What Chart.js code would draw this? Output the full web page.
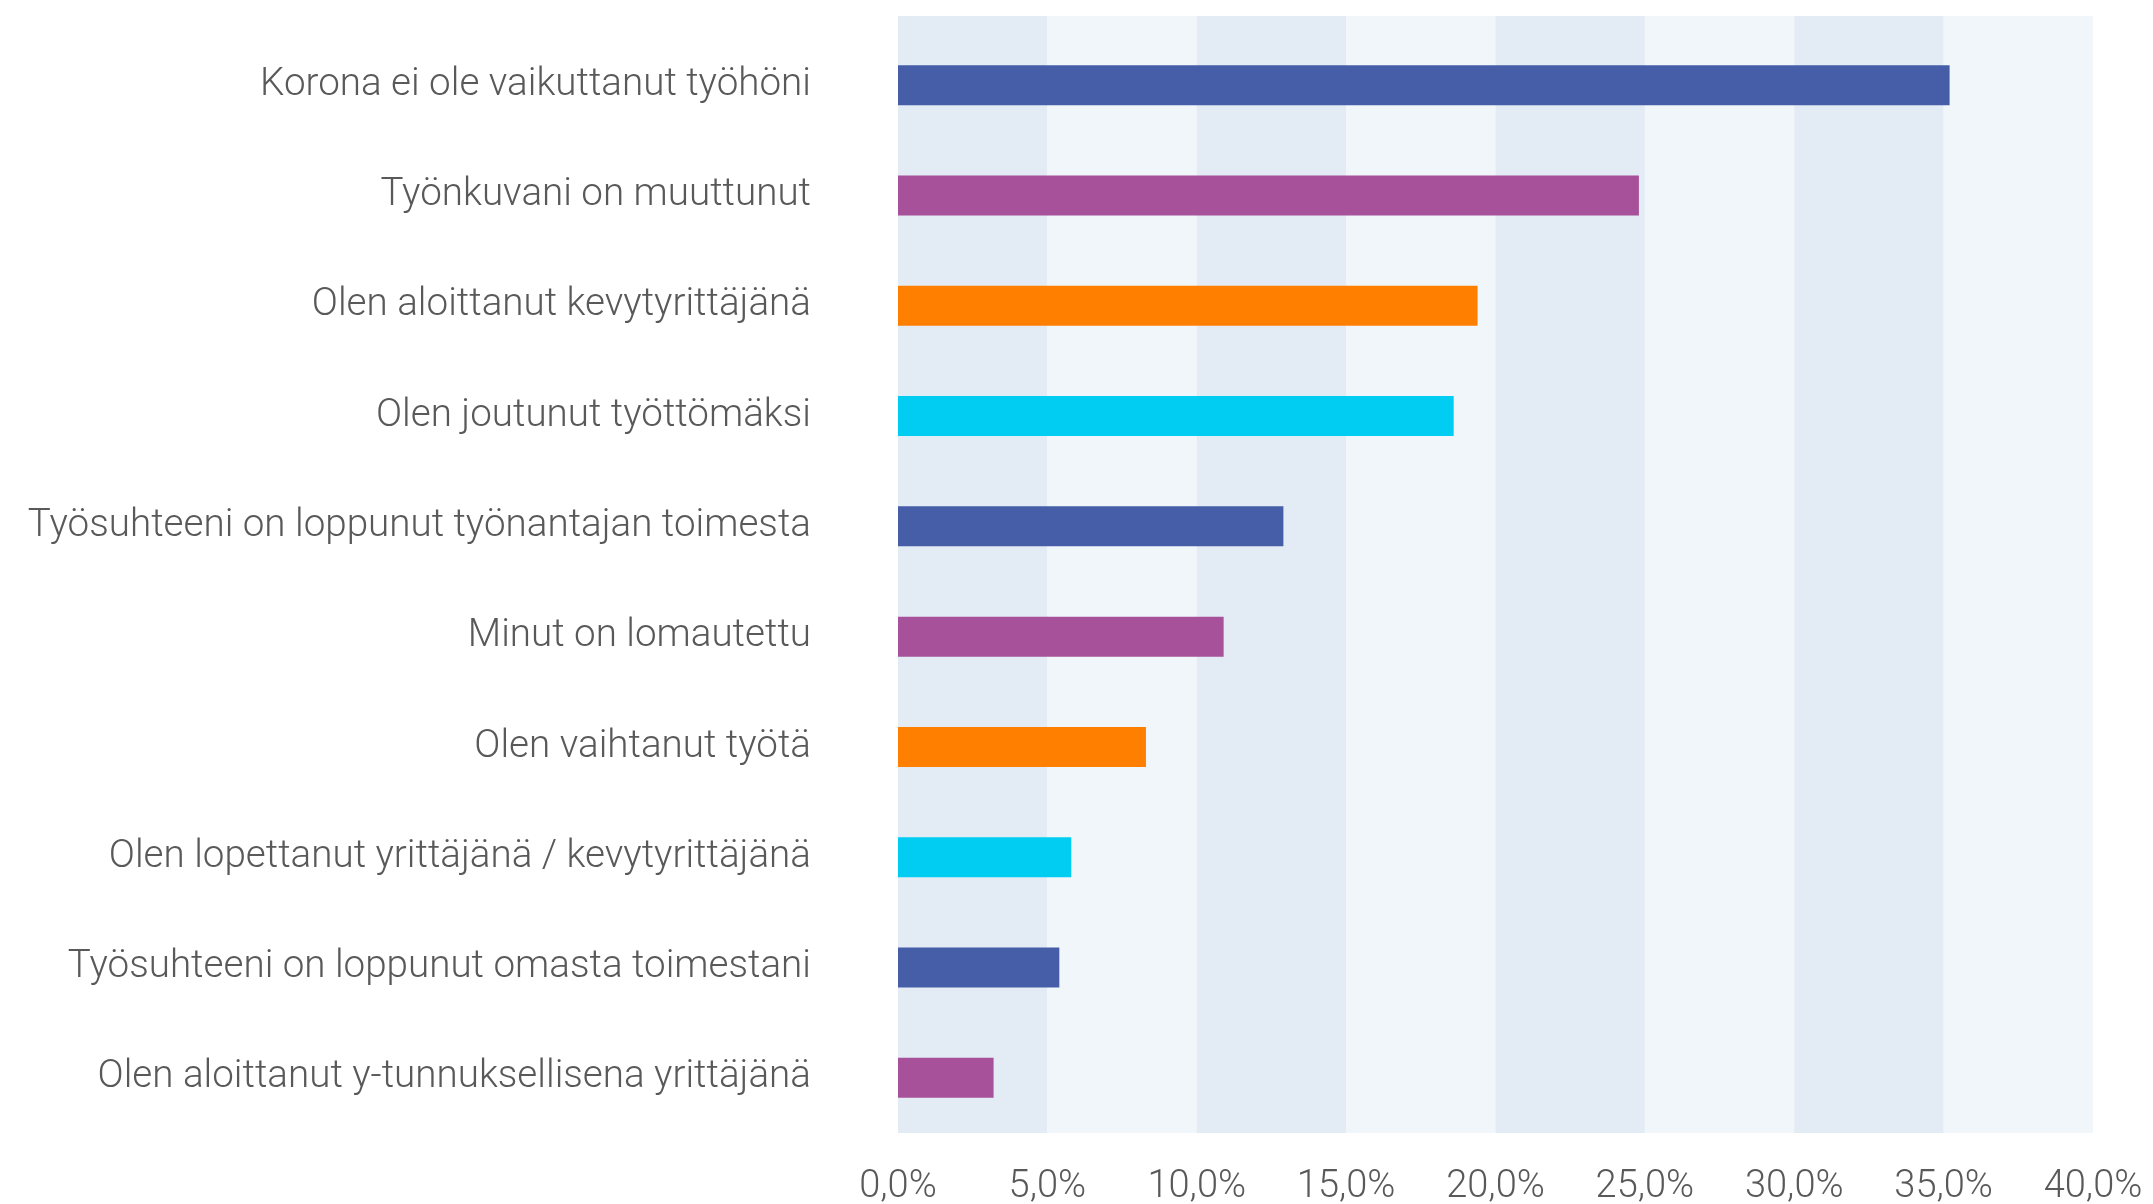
<!DOCTYPE html>
<html>
<head>
<meta charset="utf-8">
<script src="https://cdn.jsdelivr.net/npm/chart.js@4"></script>
<style>
  html, body { margin: 0; padding: 0; background: #ffffff; }
  #wrap { width: 2153px; height: 1204px; }
</style>
</head>
<body>
<div id="wrap"><canvas id="koronaChart"></canvas></div>
<script>
// Kategoriat ylhäältä alas
const categories = [
    'Korona ei ole vaikuttanut työhöni',
    'Työnkuvani on muuttunut',
    'Olen aloittanut kevytyrittäjänä',
    'Olen joutunut työttömäksi',
    'Työsuhteeni on loppunut työnantajan toimesta',
    'Minut on lomautettu',
    'Olen vaihtanut työtä',
    'Olen lopettanut yrittäjänä / kevytyrittäjänä',
    'Työsuhteeni on loppunut omasta toimestani',
    'Olen aloittanut y-tunnuksellisena yrittäjänä'
];
// Osuudet prosentteina
const shares = [35.2, 24.8, 19.4, 18.6, 12.9, 10.9, 8.3, 5.8, 5.4, 3.2];
// Akselin arvot
const tickValues = [0, 5, 10, 15, 20, 25, 30, 35, 40];

const palette = ['#455ea7', '#a65199', '#ff7f00', '#00cdf1'];
const barColors = shares.map((v, i) => palette[i % palette.length]);

// Vuorottelevat taustakaistat 5 %:n välein (alkavat hieman kaavioalueen yläpuolelta)
const bandPlugin = {
    id: 'bands',
    beforeDraw(chart) {
        const ctx = chart.ctx;
        const x = chart.scales.x;
        const area = chart.chartArea;
        const top = area.top - 14;
        for (let i = 0; i < tickValues.length - 1; i++) {
            const x0 = x.getPixelForValue(tickValues[i]);
            const x1 = x.getPixelForValue(tickValues[i + 1]);
            ctx.fillStyle = i % 2 === 0 ? '#e3ebf4' : '#f1f6fb';
            ctx.fillRect(x0, top, x1 - x0, area.bottom - top);
        }
    }
};

const ctx = document.getElementById('koronaChart').getContext('2d');
const myChart = new Chart(ctx, {
    type: 'bar',
    data: {
        labels: categories,
        datasets: [{
            data: shares,
            backgroundColor: barColors,
            borderWidth: 0,
            barPercentage: 1,
            categoryPercentage: 0.363
        }]
    },
    options: {
        indexAxis: 'y',
        responsive: true,
        maintainAspectRatio: false,
        animation: false,
        layout: { padding: { top: 30, right: 60, left: 0, bottom: 0 } },
        plugins: {
            legend: { display: false },
            tooltip: { enabled: false }
        },
        scales: {
            x: {
                min: 0,
                max: 40,
                afterFit: scale => {
                    scale.height = 71;
                    scale.paddingLeft = 0;
                    scale.paddingRight = 0;
                },
                afterBuildTicks: scale => { scale.ticks = tickValues.map(v => ({ value: v })); },
                grid: { display: false, drawTicks: false },
                border: { display: false },
                ticks: {
                    padding: 32,
                    color: '#595959',
                    font: { family: 'Roboto', weight: 300, size: 38 },
                    callback: v => v.toFixed(1).replace('.', ',') + '%'
                }
            },
            y: {
                afterFit: scale => {
                    scale.width = 898;
                    scale.paddingTop = 0;
                    scale.paddingBottom = 0;
                },
                grid: { display: false, drawTicks: false },
                border: { display: false },
                ticks: {
                    padding: 87,
                    color: '#595959',
                    font: { family: 'Roboto', weight: 300, size: 38.6 }
                }
            }
        }
    },
    plugins: [bandPlugin]
});
</script>
</body>
</html>
